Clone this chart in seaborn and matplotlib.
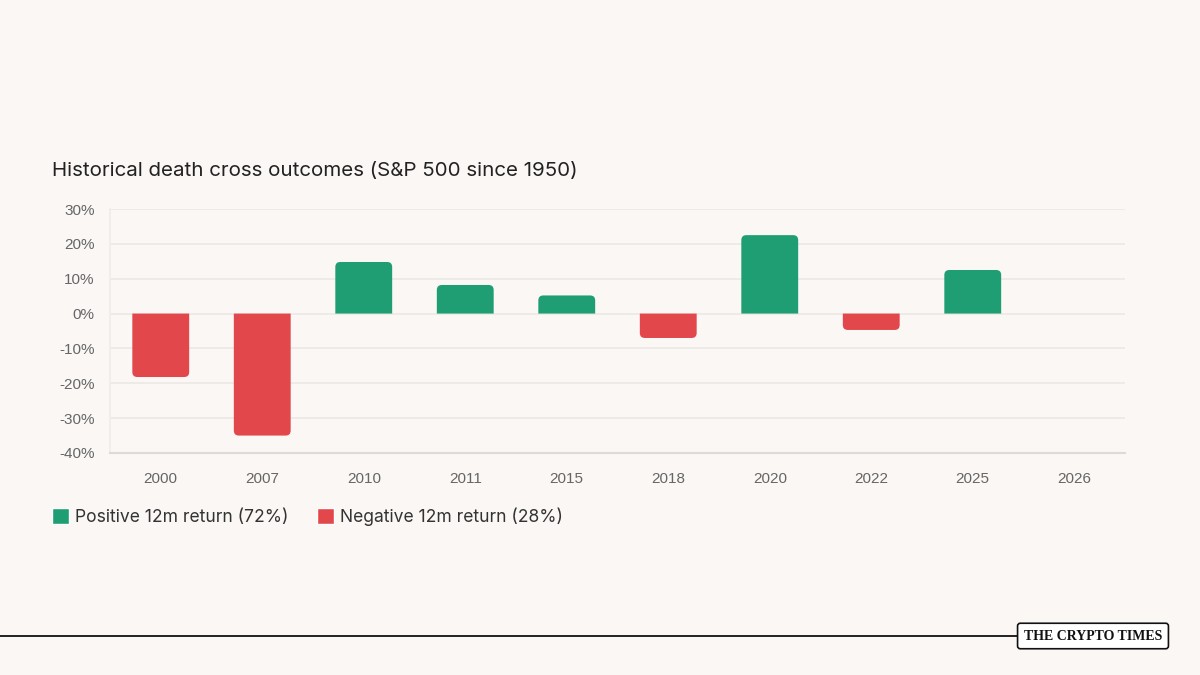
import matplotlib
matplotlib.use('Agg')
import matplotlib.pyplot as plt
import seaborn as sns
import pandas as pd
import numpy as np
from matplotlib.patches import Patch, PathPatch
from matplotlib.path import Path

# data
years = ['2000', '2007', '2010', '2011', '2015', '2018', '2020', '2022', '2025', '2026']
returns = [-18.2, -35.0, 14.8, 8.2, 5.2, -7.0, 22.5, -4.7, 12.5, np.nan]

pos_label = 'Positive 12m return (72%)'
neg_label = 'Negative 12m return (28%)'
green = '#1f9e74'
red = '#e2474c'
bg = '#faf7f5'

df = pd.DataFrame({'year': years, 'ret': returns})
df['kind'] = np.where(df['ret'] < 0, neg_label, pos_label)

sns.set_theme(style='white')
plt.rcParams['font.family'] = ['Liberation Sans', 'DejaVu Sans']

fig = plt.figure(figsize=(12, 6.75), dpi=100, facecolor=bg)
ax = fig.add_axes([110/1200, 1-453/675, 1015/1200, 244/675])
ax.set_facecolor(bg)

sns.barplot(data=df, x='year', y='ret', hue='kind', dodge=False,
            palette={pos_label: green, neg_label: red}, width=0.56,
            legend=False, ax=ax, order=years, saturation=1, linewidth=0)

ax.set_ylim(-40, 30)
ax.set_xlim(-0.5, 9.5)

# swap each bar for one with rounded outer corners (radius ~5px)
rx = 5 * 10 / 1015
ry = 5 * 70 / 244
for bar in list(ax.patches):
    h = bar.get_height()
    if np.isnan(h) or h == 0:
        continue
    x, y, w = bar.get_x(), bar.get_y(), bar.get_width()
    base = y
    end = y + h
    s = 1 if h > 0 else -1
    r = min(ry, abs(h))
    verts = [(x, base), (x, end - s * r), (x, end), (x + rx, end),
             (x + w - rx, end), (x + w, end), (x + w, end - s * r),
             (x + w, base), (x, base)]
    codes = [Path.MOVETO, Path.LINETO, Path.CURVE3, Path.CURVE3,
             Path.LINETO, Path.CURVE3, Path.CURVE3, Path.LINETO, Path.CLOSEPOLY]
    ax.add_patch(PathPatch(Path(verts, codes), facecolor=bar.get_facecolor(),
                           edgecolor='none', zorder=3))
    bar.remove()

ax.set_yticks(range(-40, 31, 10))
ax.set_yticklabels([f'{v}%' for v in range(-40, 31, 10)])
ax.yaxis.grid(True, color='#ebe8e5', linewidth=1.2)
ax.set_axisbelow(True)
for s in ['top', 'right']:
    ax.spines[s].set_visible(False)
ax.spines['left'].set_color('#efece9')
ax.spines['bottom'].set_color('#dedad7')
ax.spines['bottom'].set_linewidth(1.5)
ax.tick_params(axis='both', colors='#666666', labelsize=11, length=0)
ax.tick_params(axis='x', pad=14)
ax.tick_params(axis='y', pad=11)
ax.set_xlabel('')
ax.set_ylabel('')

fig.text(52/1200, 1-171/675, 'Historical death cross outcomes (S&P 500 since 1950)',
         fontsize=14.8, color='#222222', va='center', ha='left', family=['Inter', 'DejaVu Sans'])

handles = [Patch(facecolor=green, label=pos_label), Patch(facecolor=red, label=neg_label)]
fig.legend(handles=handles, loc='center left', bbox_to_anchor=(36/1200, 1-517/675),
           ncol=2, frameon=False, handlelength=1.0, handleheight=1.0, handletextpad=0.35,
           columnspacing=1.6, prop={'family': 'Inter', 'size': 12.6}, labelcolor='#333333')

# bottom rule and brand box
fig.add_artist(plt.Line2D([0, 1018/1200], [1-636/675, 1-636/675], color='#111111', linewidth=1.3))
fig.text(1093/1200, 1-636/675, 'THE CRYPTO TIMES', fontsize=10, fontweight='bold',
         family='Liberation Serif', color='#111111', ha='center', va='center',
         bbox=dict(boxstyle='round,pad=0.45,rounding_size=0.2', facecolor='white',
                   edgecolor='#111111', linewidth=1.2))

fig.savefig('out.png', dpi=100, facecolor=bg)
